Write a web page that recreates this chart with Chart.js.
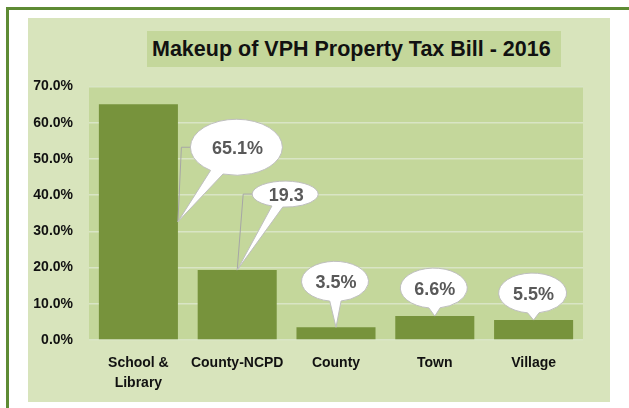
<!DOCTYPE html>
<html>
<head>
<meta charset="utf-8">
<script src="https://cdn.jsdelivr.net/npm/chart.js@4.4.1/dist/chart.umd.min.js"></script>
<style>
    body { margin: 0; background: #fff; width: 629px; height: 408px; overflow: hidden; position: relative; }
    #frame { position: absolute; left: 6px; top: 7px; width: 700px; height: 500px; border: 3px solid #5e8b34; box-sizing: border-box; }
    #panel { position: absolute; left: 28px; top: 18px; width: 582px; height: 384px; background: #d8e4bc; }
    #title {
        position: absolute; left: 147px; top: 31px; width: 414px; height: 36px;
        background: #c4d79b; color: #111; font: bold 21.5px "Liberation Sans", Arial, sans-serif;
        line-height: 36px; padding-left: 5px; box-sizing: border-box; white-space: nowrap;
    }
    canvas { position: absolute; left: 0; top: 0; }
</style>
</head>
<body>
<div id="frame"></div>
<div id="panel"><canvas id="taxChart" width="582" height="384"></canvas></div>
<div id="title">Makeup of VPH Property Tax Bill - 2016</div>
<script>
// Chart data
const categories = [['School &', 'Library'], 'County-NCPD', 'County', 'Town', 'Village'];
const shares = [65.1, 19.3, 3.5, 6.6, 5.5];
const calloutLabels = ['65.1%', '19.3', '3.5%', '6.6%', '5.5%'];
const yMin = 0;
const yMax = 70;
const yStep = 10;

// Callout bubble placement, relative to the top of each bar
const calloutStyle = [
    { dx: 98, dy: 43, rx: 46, ry: 28, side: true, leader: true },
    { dx: 48, dy: -76, rx: 33, ry: 13, side: false, leader: true },
    { dx: -1, dy: -46, rx: 33.5, ry: 20, side: false, leader: false },
    { dx: -1, dy: -28, rx: 33.5, ry: 20, side: false, leader: false },
    { dx: -1, dy: -27, rx: 34, ry: 20, side: false, leader: false }
];

const plotBackground = {
    id: 'plotBackground',
    beforeDraw(chart) {
        const { ctx, chartArea } = chart;
        ctx.save();
        ctx.fillStyle = '#c4d79b';
        ctx.fillRect(chartArea.left, chartArea.top, chartArea.right - chartArea.left, chartArea.bottom - chartArea.top);
        ctx.restore();
    }
};

const callouts = {
    id: 'callouts',
    afterDatasetsDraw(chart) {
        const { ctx } = chart;
        const meta = chart.getDatasetMeta(0);
        ctx.save();
        meta.data.forEach((bar, i) => {
            const s = calloutStyle[i];
            const cx = bar.x + s.dx;
            const cy = bar.y + s.dy;
            const tipX = s.side ? bar.x + bar.width / 2 : bar.x;
            const tipY = s.side ? (bar.y + bar.base) / 2 : bar.y;

            // leader line
            if (s.leader) {
                ctx.strokeStyle = '#a6a6a6';
                ctx.lineWidth = 1;
                ctx.beginPath();
                ctx.moveTo(tipX, tipY);
                ctx.lineTo(cx - s.rx - 9, cy);
                ctx.lineTo(cx - s.rx, cy);
                ctx.stroke();
            }

            // bubble with tail
            const a = Math.atan2((tipY - cy) / s.ry, (tipX - cx) / s.rx);
            const d = s.side ? 0.15 : 0.17;
            ctx.beginPath();
            ctx.ellipse(cx, cy, s.rx, s.ry, 0, a + d, a - d + Math.PI * 2);
            ctx.lineTo(tipX, tipY);
            ctx.closePath();
            ctx.fillStyle = '#ffffff';
            ctx.fill();
            ctx.strokeStyle = '#bfbfbf';
            ctx.lineWidth = 1;
            ctx.stroke();

            ctx.fillStyle = '#595959';
            ctx.font = 'bold 18px "Liberation Sans", Arial, sans-serif';
            ctx.textAlign = 'center';
            ctx.textBaseline = 'middle';
            ctx.fillText(calloutLabels[i], cx + 1, cy + 2);
        });
        ctx.restore();
    }
};

const tickFont = { family: '"Liberation Sans", Arial, sans-serif', size: 14, weight: 'bold', lineHeight: 1.43 };

new Chart(document.getElementById('taxChart'), {
    type: 'bar',
    data: {
        labels: categories,
        datasets: [{
            data: shares,
            backgroundColor: '#77933c',
            categoryPercentage: 0.8,
            barPercentage: 1
        }]
    },
    options: {
        responsive: false,
        animation: false,
        layout: { padding: { top: 68.5, right: 27, bottom: 0, left: 0 } },
        plugins: {
            legend: { display: false },
            tooltip: { enabled: false }
        },
        scales: {
            x: {
                grid: { display: false, drawTicks: false },
                border: { display: false },
                ticks: { color: '#111', font: tickFont, padding: 13, maxRotation: 0, autoSkip: false },
                afterFit(scale) { scale.height = 62; }
            },
            y: {
                min: yMin,
                max: yMax,
                grid: { color: '#d9e5c5', lineWidth: 1.5, drawTicks: false },
                border: { display: false },
                ticks: {
                    stepSize: yStep,
                    color: '#111',
                    font: tickFont,
                    padding: 16,
                    callback: v => v.toFixed(1) + '%'
                },
                afterFit(scale) { scale.width = 61; }
            }
        }
    },
    plugins: [plotBackground, callouts]
});
</script>
</body>
</html>
